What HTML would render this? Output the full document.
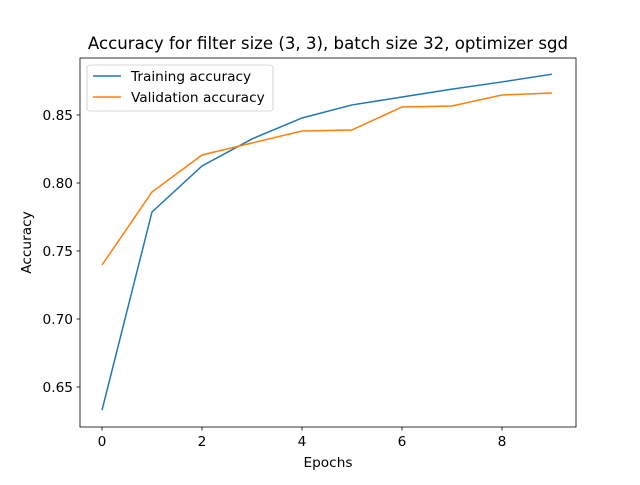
<!DOCTYPE html>
<html><head><meta charset="utf-8"><style>
body{margin:0;background:#fff}
text{font-family:"DejaVu Sans","Liberation Sans",sans-serif;fill:#000}
</style></head><body>
<svg id="chart" width="640" height="480" xmlns="http://www.w3.org/2000/svg">
<rect width="640" height="480" fill="#fff"/>
<text x="328" y="49" font-size="16.6" text-anchor="middle">Accuracy for filter size (3, 3), batch size 32, optimizer sgd</text>
<g id="ticks"></g>
<g id="series"></g>
<rect x="80" y="58" width="496" height="369" fill="none" stroke="#000" stroke-width="0.8"/>
<text x="328" y="467" font-size="13.7" text-anchor="middle">Epochs</text>
<text x="31" y="242.5" font-size="13.7" text-anchor="middle" transform="rotate(-90 31 242.5)">Accuracy</text>
<g>
<rect x="87" y="65" width="186" height="46" rx="3" fill="#fff" stroke="#ccc" stroke-width="0.8"/>
<line x1="93" y1="76" x2="121" y2="76" stroke="#1f77b4" stroke-width="1.5"/>
<text x="131" y="81" font-size="13.7">Training accuracy</text>
<line x1="93" y1="97" x2="121" y2="97" stroke="#ff7f0e" stroke-width="1.5"/>
<text x="131" y="102" font-size="13.7">Validation accuracy</text>
</g>
</svg>
<script>
const epochs=[0,1,2,3,4,5,6,7,8,9];
const trainAcc=[0.633,0.7787,0.8125,0.8324,0.8478,0.8574,0.8632,0.869,0.8743,0.880];
const valAcc=[0.7397,0.7934,0.8206,0.8294,0.8382,0.839,0.8559,0.8566,0.8647,0.8662];
const xTicks=[0,2,4,6,8];
const yTicks=[0.65,0.70,0.75,0.80,0.85];
const NS="http://www.w3.org/2000/svg";
const X0=80,X1=576,Y0=58,Y1=427,xMin=-0.44,xMax=9.48,yMin=0.6206,yMax=0.8919;
const sx=v=>X0+(v-xMin)/(xMax-xMin)*(X1-X0);
const sy=v=>Y1-(v-yMin)/(yMax-yMin)*(Y1-Y0);
const tg=document.getElementById('ticks'),sg=document.getElementById('series');
function mk(t,a,p){const e=document.createElementNS(NS,t);for(const k in a)e.setAttribute(k,a[k]);p.appendChild(e);return e;}
xTicks.forEach(v=>{const x=sx(v);
const l=mk('line',{x1:x,x2:x,y1:Y1,y2:Y1+3.5,stroke:'#000','stroke-width':0.8},tg);


const t=mk('text',{x:x,y:Y1+19,'font-size':13.7,'text-anchor':'middle'},tg);t.textContent=v;

});
yTicks.forEach(v=>{const y=sy(v);
const l=mk('line',{x1:X0-3.5,x2:X0,y1:y,y2:y,stroke:'#000','stroke-width':0.8},tg);


const t=mk('text',{x:X0-7,y:y+5,'font-size':13.7,'text-anchor':'end'},tg);t.textContent=v.toFixed(2);

});
function line(d,c,n){const p=mk('polyline',{points:d.map((v,i)=>sx(epochs[i])+','+sy(v)).join(' '),fill:'none',stroke:c,'stroke-width':1.5},sg);

}
line(trainAcc,'#1f77b4','training-accuracy-line');
line(valAcc,'#ff7f0e','validation-accuracy-line');
</script>
</body></html>
